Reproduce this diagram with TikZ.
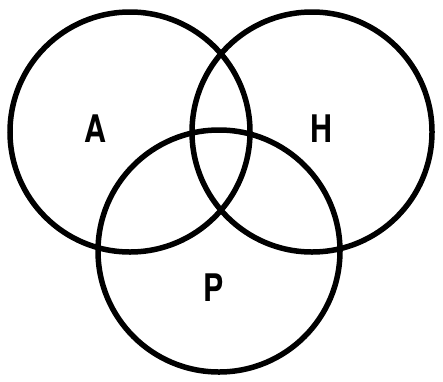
\documentclass[tikz,border=0pt]{standalone}
\usepackage{fontspec}
\setsansfont{TeX Gyre Heros}
\usepackage{tikz}
\usetikzlibrary{positioning}

\begin{document}
\begin{tikzpicture}[
    x=1pt, y=-1pt,
    ring/.style={draw=black, line width=5.5pt},
    setLabel/.style={font=\sffamily\bfseries\fontsize{38}{38}\selectfont, inner sep=0pt, anchor=center}
  ]
    \useasboundingbox (0,0) rectangle (443,381);
    % the three sets
    \draw[ring] (130,132) circle (120);
    \draw[ring] (312,132) circle (120);
    \draw[ring] (219,251) circle (121);
    % labels
    \node[setLabel] (A) at (95,129) {\scalebox{0.8}[1]{A}};
    \node[setLabel] (H) at (321,129) {\scalebox{0.8}[1]{H}};
    \node[setLabel] (P) at (214,288) {\scalebox{0.8}[1]{P}};
  \end{tikzpicture}
\end{document}
